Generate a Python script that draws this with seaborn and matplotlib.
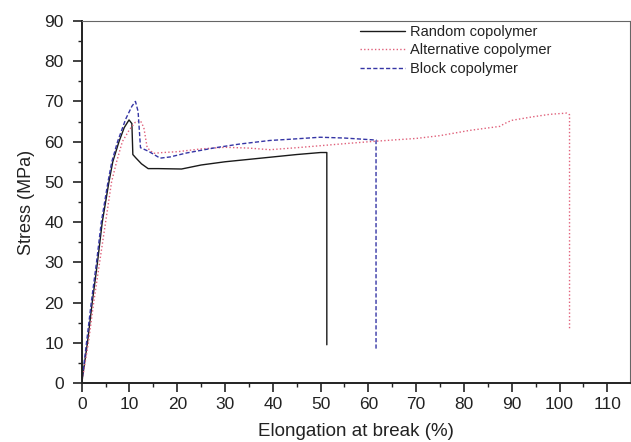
import numpy as np
import pandas as pd
import matplotlib
matplotlib.use("Agg")
import matplotlib.pyplot as plt
import seaborn as sns
from matplotlib.ticker import MultipleLocator

# ---- data ----
random_x = [0, 0.6, 1.2, 2.2, 3.3, 4.3, 5.7, 6.5, 7.8, 8.9, 9.9, 10.5, 10.7, 11.3, 12.5, 13.9,
            16.0, 20.9, 25.0, 30.0, 35.0, 40.0, 45.0, 50.0, 51.3, 51.3]
random_y = [0, 5, 10, 20, 30, 40, 50, 55, 60, 63.5, 65.4, 64.5, 56.8, 56.0, 54.5, 53.3,
            53.3, 53.2, 54.2, 55.0, 55.6, 56.2, 56.8, 57.3, 57.3, 9.5]

alt_x = [0, 0.7, 1.4, 2.5, 3.75, 5.0, 6.25, 7.3, 8.5, 10.0, 11.2, 12.3, 13.0, 13.7, 15.0,
         17.0, 20.0, 25.0, 30.0, 35.0, 39.4, 45.0, 50.0, 55.0, 60.3, 65.0, 70.0, 75.0, 81.2,
         87.5, 88.5, 90.0, 94.5, 98.0, 101.5, 102.1, 102.1]
alt_y = [0, 5, 10, 20, 30, 40, 50, 55, 60, 63.0, 64.8, 65.2, 63.5, 58.5, 57.1,
         57.3, 57.5, 58.2, 58.6, 58.4, 58.0, 58.5, 59.0, 59.5, 60.0, 60.4, 60.8, 61.5, 62.8,
         63.8, 64.5, 65.3, 66.2, 66.8, 67.1, 66.7, 13.2]

block_x = [0, 0.5, 1.0, 2.0, 3.1, 4.1, 5.5, 6.3, 7.5, 9.2, 10.5, 11.25, 11.8, 12.3, 14.0,
           16.4, 18.5, 22.0, 28.0, 33.0, 39.4, 43.6, 49.9, 55.0, 61.6, 61.6]
block_y = [0, 5, 10, 20, 30, 40, 50, 55, 60, 65.6, 68.8, 70.0, 67.5, 58.5, 57.6,
           55.9, 56.2, 57.2, 58.5, 59.4, 60.3, 60.6, 61.1, 60.9, 60.4, 8.0]

labels = ["Random copolymer", "Alternative copolymer", "Block copolymer"]
x_ticks = list(range(0, 111, 10))
y_ticks = list(range(0, 91, 10))

series_x = {labels[0]: random_x, labels[1]: alt_x, labels[2]: block_x}
series_y = {labels[0]: random_y, labels[1]: alt_y, labels[2]: block_y}

sns.set_theme(style="ticks")
plt.rcParams["font.family"] = ["Liberation Sans", "DejaVu Sans"]

fig = plt.figure(figsize=(6.31, 4.42), dpi=100)
ax = fig.add_axes([0.1295, 0.1335, 0.8685, 0.819])

palette = {labels[0]: "#1a1a1a", labels[1]: "#e0607a", labels[2]: "#3535a5"}
dashes = {labels[0]: "", labels[1]: (1, 1.6), labels[2]: (3, 1.6)}

for lab in labels:
    sns.lineplot(x=np.asarray(series_x[lab]), y=np.asarray(series_y[lab]), sort=False,
                 estimator=None, color=palette[lab], linewidth=1.0, ax=ax, label=lab)
for line, lab in zip(ax.lines, labels):
    if dashes[lab]:
        line.set_dashes(dashes[lab])

ax.set_xlim(0, 114.7)
ax.set_ylim(0, 90)
ax.set_xticks(x_ticks)
ax.set_yticks(y_ticks)
ax.xaxis.set_minor_locator(MultipleLocator(5))
ax.yaxis.set_minor_locator(MultipleLocator(5))
ax.tick_params(axis="both", which="major", direction="out", length=6.5, width=1.2,
               labelsize=12.5, colors="#222222")
ax.tick_params(axis="x", which="major", pad=3.5)
ax.tick_params(axis="y", which="major", pad=6.5)
ax.tick_params(axis="both", which="minor", direction="out", length=3, width=1.0, colors="#222222")
ax.tick_params(top=False, right=False, which="both")

for s in ["left", "bottom"]:
    ax.spines[s].set_linewidth(1.4)
    ax.spines[s].set_color("#222222")
for s in ["top", "right"]:
    ax.spines[s].set_linewidth(0.8)
    ax.spines[s].set_color("#666666")

ax.set_xlabel("Elongation at break (%)", fontsize=13.5, color="#222222", labelpad=8)
ax.set_ylabel("Stress (MPa)", fontsize=13, color="#222222", labelpad=7)

leg = ax.legend(loc="upper left", bbox_to_anchor=(0.5076, 0.99), frameon=False,
                fontsize=10.5, handlelength=3.1, handletextpad=0.35, borderpad=0,
                borderaxespad=0, labelspacing=0.33)
for t in leg.get_texts():
    t.set_color("#222222")

fig.savefig("out.png", dpi=100)
